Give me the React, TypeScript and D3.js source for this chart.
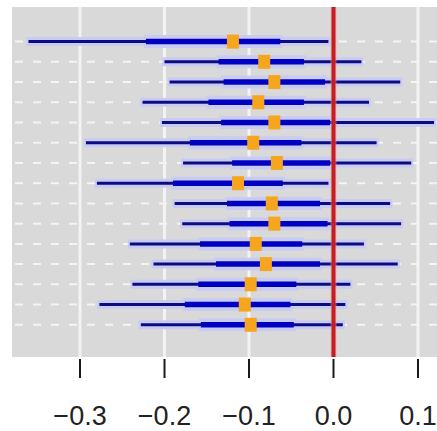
import React from "react";
import * as d3 from "d3";

const rows = ["1","2","3","4","5","6","7","8","9","10","11","12","13","14","15"];
const pointEst = [-0.119,-0.082,-0.070,-0.089,-0.070,-0.095,-0.067,-0.113,-0.073,-0.070,-0.092,-0.080,-0.098,-0.105,-0.098];
const innerLo = [-0.222,-0.136,-0.130,-0.148,-0.133,-0.170,-0.120,-0.190,-0.126,-0.123,-0.158,-0.139,-0.160,-0.176,-0.157];
const innerHi = [-0.063,-0.035,-0.010,-0.035,-0.004,-0.038,-0.004,-0.060,-0.016,-0.007,-0.037,-0.016,-0.044,-0.051,-0.047];
const outerLo = [-0.361,-0.200,-0.194,-0.226,-0.203,-0.293,-0.178,-0.280,-0.188,-0.179,-0.241,-0.213,-0.238,-0.277,-0.228];
const outerHi = [-0.006,0.033,0.079,0.042,0.119,0.051,0.092,-0.006,0.067,0.080,0.036,0.076,0.020,0.014,0.011];
const xTicks = [-0.3,-0.2,-0.1,0.0,0.1];

const W = 437, H = 431;
const panel = { left: 12, right: 437, top: 7, bottom: 357 };

export default function App() {
  const x = d3.scaleLinear().domain([-0.3805, 0.1225]).range([panel.left, panel.right]);
  const y = d3.scaleLinear().domain([0, rows.length - 1]).range([41.6, 324.8]);
  const fmt = (v: number) => (v < 0 ? "\u2212" : "") + Math.abs(v).toFixed(1);
  return (
    <svg width={W} height={H} style={{ position: "absolute", left: 0, top: 0, background: "#fff" }}>
      <rect x={panel.left} y={panel.top} width={panel.right - panel.left} height={panel.bottom - panel.top} fill="#d9d9d9" />
      {xTicks.map((t) => (
        <line key={"g" + t} x1={x(t)} x2={x(t)} y1={panel.top} y2={panel.bottom} stroke="#f3f3f3" strokeWidth={3} />
      ))}
      {rows.map((r, i) => (
        <line key={"h" + r} x1={panel.left + 3} x2={panel.right} y1={y(i)} y2={y(i)} stroke="#f4f4f4" strokeWidth={2} strokeDasharray="8,10" />
      ))}
      {rows.map((r, i) => (
        <g key={"r" + r}>
          <line x1={x(outerLo[i]) - 2} x2={x(outerHi[i]) + 2} y1={y(i)} y2={y(i)} stroke="#c9cbf2" strokeWidth={9} />
          <line x1={x(innerLo[i]) - 2} x2={x(innerHi[i]) + 2} y1={y(i)} y2={y(i)} stroke="#c9cbf2" strokeWidth={13} />
        </g>
      ))}
      {rows.map((r, i) => (
        <g key={"l" + r}>
          <line x1={x(outerLo[i])} x2={x(outerHi[i])} y1={y(i)} y2={y(i)} stroke="#0c0c82" strokeWidth={3} />
          <line x1={x(innerLo[i])} x2={x(innerHi[i])} y1={y(i)} y2={y(i)} stroke="#0000c0" strokeWidth={5.5} />
        </g>
      ))}
      <line x1={x(0)} x2={x(0)} y1={panel.top} y2={panel.bottom} stroke="#f0a0a0" strokeWidth={6} opacity={0.5} />
      <line x1={x(0)} x2={x(0)} y1={panel.top} y2={panel.bottom} stroke="#c41e24" strokeWidth={4} />
      {rows.map((r, i) => (
        <rect key={"p" + r} x={x(pointEst[i]) - 6} y={y(i) - 7} width={12} height={14} fill="#f5a51e" />
      ))}
      {xTicks.map((t) => (
        <g key={"t" + t}>
          <line x1={x(t)} x2={x(t)} y1={359} y2={378} stroke="#1a1a1a" strokeWidth={2} />
          <text x={x(t)} y={425} textAnchor="middle" fontFamily="Liberation Sans, Arial, sans-serif" fontSize={27} fill="#222">
            {fmt(t)}
          </text>
        </g>
      ))}
    </svg>
  );
}
